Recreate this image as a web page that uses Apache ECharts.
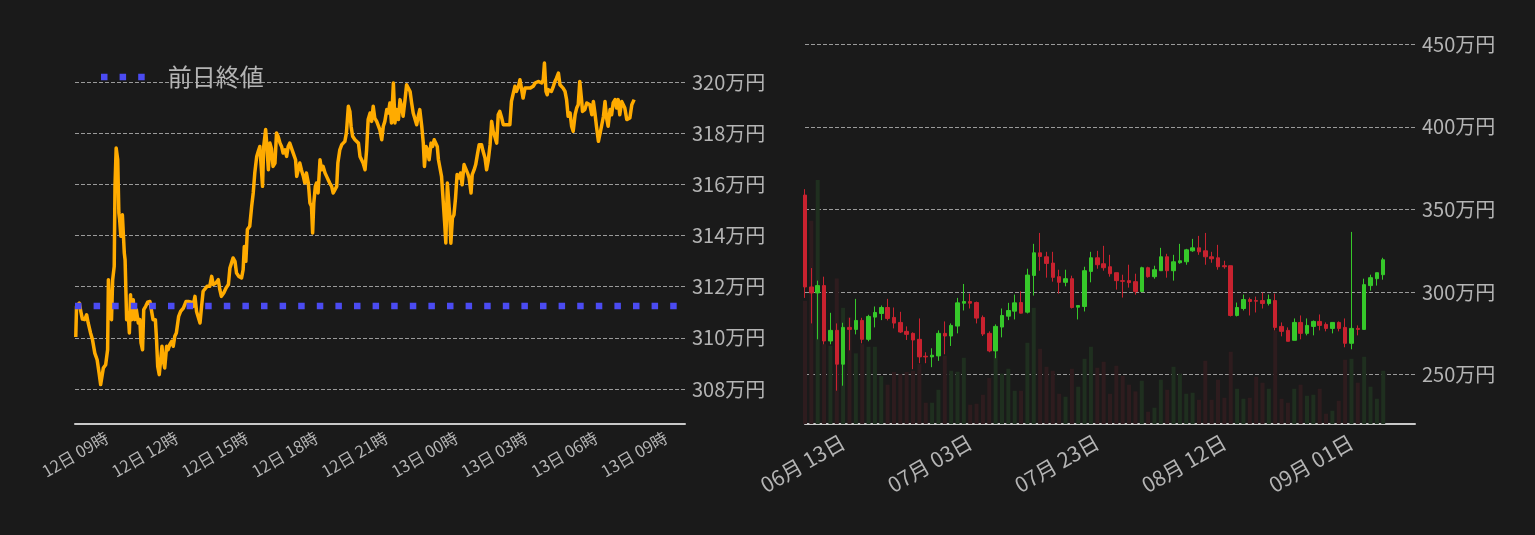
<!DOCTYPE html>
<html lang="ja">
<head>
<meta charset="utf-8">
<title>価格チャート</title>
<script src="https://cdn.jsdelivr.net/npm/echarts@6.0.0/dist/echarts.min.js"></script>
<style>
  html, body { margin: 0; padding: 0; background: #1a1a1a; }
  #chart { width: 1535px; height: 535px; }
</style>
</head>
<body>
<div id="chart"></div>
<script>
// ---------------------------------------------------------------------------
// Data — intraday (left) : [minutes since 12日 00:00, price in 万円]
// ---------------------------------------------------------------------------
const intraday = [
  [460,310.03],[462,311.23],[469,311.36],[473,311.03],[477,310.73],[483,310.71],[488,310.90],[492,310.58],[498,310.19],[503,309.93],
  [509,309.40],[515,309.14],[520,308.62],[524,308.17],[528,308.23],[531,308.82],[537,308.95],[542,309.53],[544,312.27],[548,310.84],
  [552,310.71],[555,312.27],[559,312.79],[561,315.92],[564,317.42],[568,316.96],[571,314.88],[573,314.62],[576,313.97],[580,314.81],
  [582,314.75],[585,313.31],[587,313.05],[591,310.71],[595,310.97],[598,310.19],[601,311.68],[604,310.71],[608,311.49],[612,310.71],
  [616,311.10],[621,310.58],[625,310.71],[628,309.80],[632,309.53],[635,311.10],[640,311.23],[645,311.39],[651,311.42],[655,311.36],
  [659,310.71],[665,310.71],[668,309.93],[671,308.88],[675,308.56],[678,308.62],[682,309.67],[685,309.14],[689,308.82],[694,309.67],
  [698,309.54],[702,309.73],[707,309.86],[711,309.67],[715,310.06],[719,310.19],[725,310.84],[730,311.03],[737,311.16],[744,311.42],
  [750,311.42],[754,311.36],[758,311.39],[762,311.23],[767,311.62],[771,311.03],[776,310.97],[780,310.58],[784,311.23],[788,311.82],
  [792,311.88],[798,312.01],[805,312.01],[810,312.40],[814,312.08],[821,312.14],[827,312.27],[831,311.88],[835,311.62],[841,311.75],
  [847,311.95],[853,312.08],[857,312.73],[861,312.92],[865,313.12],[870,312.99],[874,312.53],[880,312.40],[887,312.34],[891,312.66],
  [894,313.57],[898,312.99],[902,314.23],
  [908,314.36],[913,315.14],[917,315.66],[921,316.44],[926,317.09],[930,317.29],[934,317.48],[938,317.42],[941,315.92],[944,317.48],
  [949,318.14],[951,317.75],[956,316.57],[960,317.61],[964,317.39],[968,316.70],[973,316.83],[977,318.01],[981,317.88],[986,317.61],
  [990,317.48],[994,317.22],[999,317.35],[1003,317.09],[1007,317.48],[1011,317.61],[1016,317.61],[1020,317.22],[1026,316.96],[1029,316.31],
  [1033,316.57],[1037,316.83],[1041,316.57],[1046,316.31],[1050,316.05],[1054,316.44],[1059,316.05],[1063,315.27],[1067,315.14],[1070,314.10],
  [1073,315.27],[1077,315.92],[1080,316.05],[1084,315.66],[1089,316.96],[1093,316.57],[1097,316.70],[1102,316.44],[1106,316.31],[1110,316.18],
  [1114,316.05],[1119,315.92],[1123,315.66],[1127,315.66],[1132,315.92],[1135,316.83],[1140,317.35],[1145,317.55],[1149,317.61],[1153,317.68],
  [1157,318.01],[1162,319.05],[1166,318.85],[1169,318.27],[1173,317.88],[1179,317.74],[1183,317.74],[1188,317.61],[1192,317.09],[1196,316.96],
  [1200,316.83],[1205,316.57],[1209,317.35],[1213,318.53],[1218,318.79],[1222,318.46],[1226,319.05],[1230,318.59],[1235,318.46],[1239,318.40],
  [1243,318.14],[1248,317.74],[1252,318.27],[1256,318.46],[1261,318.92],[1265,318.79],[1269,319.18],[1273,318.40],[1278,319.96],[1282,318.40],
  [1286,318.92],[1291,318.53],[1295,319.31],[1299,319.05],[1303,318.66],[1308,319.31],[1312,319.89],[1316,319.96],[1321,319.63],[1325,319.18],
  [1329,318.79],[1334,318.72],[1338,318.33],[1342,318.66],[1346,318.92],[1351,318.27],[1355,317.61],[1358,316.70],[1362,317.48],[1366,317.35],
  [1370,316.96],[1375,317.61],[1379,317.48],[1383,317.74],[1388,317.81],[1391,317.48],[1394,316.96],[1398,316.96],[1402,316.31],[1406,315.40],
  [1410,314.49],[1413,313.71],[1417,316.05],
  [1419,315.98],[1423,314.81],[1426,313.70],[1430,314.68],[1434,314.81],[1438,315.46],[1442,316.38],[1448,316.25],[1451,316.44],[1455,315.98],
  [1460,316.77],[1465,316.83],[1469,316.44],[1473,316.25],[1478,315.66],[1481,316.38],[1486,316.57],[1490,316.77],[1495,317.22],[1499,317.55],
  [1505,317.55],[1509,317.29],[1514,317.03],[1518,316.57],[1522,316.90],[1527,317.55],[1531,318.46],[1535,318.07],[1539,317.88],[1544,317.61],
  [1548,318.72],[1552,318.85],[1557,318.59],[1561,318.33],[1570,318.33],[1578,318.33],[1582,319.24],[1587,319.57],[1591,319.83],[1595,319.63],
  [1600,319.83],[1604,320.09],[1608,320.02],[1612,319.37],[1617,319.76],[1621,319.76],[1630,319.76],[1638,319.83],[1643,319.96],[1647,319.89],
  [1651,320.02],[1655,320.09],[1660,319.96],[1664,320.09],[1667,320.74],[1671,319.63],[1674,319.50],[1677,319.70],[1681,319.76],[1685,319.63],
  [1690,319.83],[1694,320.02],[1698,320.15],[1703,320.35],[1707,319.89],[1711,319.83],[1715,319.76],[1720,319.63],[1724,319.31],[1728,318.66],
  [1733,318.79],[1737,318.27],[1741,318.07],[1746,318.72],[1750,318.98],[1754,319.11],[1758,320.02],[1763,319.24],[1765,318.85],[1771,318.92],
  [1776,319.18],[1780,319.11],[1784,319.11],[1789,318.72],[1793,319.24],[1797,318.79],[1801,318.27],[1806,317.68],[1810,317.61],[1814,318.27],
  [1819,318.66],[1823,319.24],[1827,318.59],[1831,318.27],[1836,318.92],[1840,318.72],[1844,319.18],[1849,319.31],[1853,318.98],[1857,319.31],
  [1861,318.72],[1866,319.24],[1870,319.11],[1874,318.98],[1879,318.53],[1883,318.53],[1887,318.59],[1892,319.11],[1898,319.31],
];
const prevClose = 311.24;               // 前日終値
const intradayAxis = [458, 2029];       // x range, minutes since 12日 00:00
const intradayPriceAxis = [306.63, 321.25];

// ---------------------------------------------------------------------------
// Data — daily candles (right). Calendar days, last few are empty.
// ---------------------------------------------------------------------------
const dayFirst = "06-07";
const dayLast = "09-11";
const dateTicks = ["06-13", "07-03", "07-23", "08-12", "09-01"];

const candleOpen = [
  358.64,303.01,299.40,303.82,270.29,276.72,256.24,278.52,277.31,282.73,
  271.29,284.74,286.95,290.56,284.54,281.53,276.11,274.90,271.29,261.05,
  260.65,261.25,274.90,273.30,279.32,293.17,294.18,293.57,284.54,274.90,
  264.26,278.72,285.34,288.36,293.57,287.75,310.00,323.70,321.29,317.47,
  309.24,305.82,308.03,290.76,291.16,312.45,320.68,317.07,315.26,311.65,
  306.83,306.83,306.22,300.19,314.66,309.24,312.85,321.29,312.85,317.67,
  318.27,324.90,326.71,324.90,321.29,320.68,315.87,315.87,285.74,289.96,
  295.38,294.78,294.78,292.97,294.78,279.12,276.71,270.69,281.53,274.90,
  279.12,282.13,280.32,277.91,281.53,278.52,268.88,277.91,277.31,303.82,
  308.03,310.44,
];
const candleClose = [
  303.01,299.40,303.82,270.29,276.72,256.24,278.52,277.31,282.73,271.29,
  285.15,287.56,290.56,283.94,281.13,275.71,274.30,270.89,260.65,260.65,
  261.65,274.90,273.30,279.72,293.38,294.18,293.17,284.14,274.50,264.26,
  279.12,285.74,288.76,293.38,287.15,310.20,323.70,321.49,317.27,308.83,
  305.82,308.03,290.56,291.77,312.85,320.68,316.47,314.66,311.04,306.83,
  306.43,305.62,300.19,314.66,309.24,313.45,321.29,312.85,318.27,318.88,
  325.50,326.71,324.30,321.29,320.08,315.26,315.26,285.74,290.56,295.38,
  294.18,294.38,292.97,295.38,278.52,276.11,270.09,281.53,274.90,279.72,
  282.13,279.72,277.91,281.53,277.91,268.88,277.91,277.31,304.42,308.63,
  311.65,319.48,
];
const candleLow = [
  296.39,280.93,271.29,268.28,268.28,240.17,243.18,264.66,274.30,268.88,
  270.09,278.52,282.93,282.73,277.91,275.10,270.89,253.22,256.83,256.83,
  254.42,258.24,262.25,267.27,274.90,288.76,289.96,280.93,273.30,263.46,
  259.84,272.49,282.93,283.33,286.95,286.95,297.79,312.85,308.63,306.22,
  299.00,303.41,289.96,283.33,288.16,305.82,314.06,312.85,309.24,301.41,
  296.59,302.61,298.40,300.19,308.63,308.03,312.85,308.63,306.83,317.07,
  316.47,324.30,322.49,316.47,317.67,313.45,314.06,285.14,285.14,288.76,
  285.74,287.55,289.96,291.77,276.71,273.09,270.09,270.69,271.29,273.70,
  273.70,276.71,276.11,274.90,276.11,266.47,265.26,273.70,277.31,300.80,
  303.82,307.43,
];
const candleHigh = [
  362.25,314.46,306.83,309.24,287.36,280.93,281.33,284.34,295.79,284.34,
  286.15,291.17,291.77,295.79,290.56,287.96,279.12,275.50,283.94,263.46,
  265.86,276.71,282.13,280.93,296.39,304.82,298.99,294.18,285.74,276.11,
  280.32,289.96,293.38,298.40,300.40,314.06,329.12,335.74,324.30,324.30,
  313.45,313.45,309.84,291.77,315.26,324.30,324.90,327.91,322.49,311.65,
  310.44,316.47,311.04,315.26,315.26,315.87,326.71,323.09,322.49,329.12,
  326.10,332.13,333.94,335.74,324.30,328.52,318.88,315.87,293.57,298.40,
  296.59,297.19,299.60,298.40,299.00,281.53,278.52,283.94,285.74,283.94,
  282.73,286.35,281.53,281.53,282.13,283.94,336.35,279.72,308.03,310.44,
  311.65,320.68,
];
const volume = [
  1233,2033,2443,800,783,1457,1163,1067,707,800,
  773,773,480,393,520,500,520,533,600,213,
  213,343,683,533,523,663,193,203,293,460,
  717,503,553,333,333,813,1163,753,573,533,
  303,273,553,373,653,773,563,623,303,583,
  483,393,327,433,123,163,443,343,573,503,
  303,313,243,633,243,443,263,723,353,253,
  263,473,413,353,933,253,213,353,393,283,
  293,353,103,133,233,643,653,413,673,373,
  253,533,
];
const volumeAxisMax = 3800;
const dailyPriceAxis = [220, 450];

// ---------------------------------------------------------------------------
// Style tokens
// ---------------------------------------------------------------------------
const BG = "#1a1a1a";
const TEXT = "#b4b4b4";
const GRID = "#9a9a9a";
const AXIS = "#c8c8c8";
const ORANGE = "#ffab00";
const BLUE = "#4b4bf2";
const UP = "#36c82a";
const DOWN = "#c8222f";
const UP_VOL = "#1f2f1f";
const DOWN_VOL = "#2e1c1e";
const FONT = "'Noto Sans CJK JP', 'Noto Sans', sans-serif";

// ---------------------------------------------------------------------------
// Helpers
// ---------------------------------------------------------------------------
const pad2 = (n) => String(n).padStart(2, "0");

// "06-07".."09-11" -> every calendar day in between.
function dayRange(fromMD, toMD) {
  const [fm, fd] = fromMD.split("-").map(Number);
  const [tm, td] = toMD.split("-").map(Number);
  const out = [];
  for (let t = Date.UTC(2001, fm - 1, fd); t <= Date.UTC(2001, tm - 1, td); t += 864e5) {
    const d = new Date(t);
    out.push(`${pad2(d.getUTCMonth() + 1)}-${pad2(d.getUTCDate())}`);
  }
  return out;
}

// hours since 12日 00:00 -> "12日 09時"
function fmtHour(h) {
  const hr = Math.round(h);
  return `${12 + Math.floor(hr / 24)}日 ${pad2(hr % 24)}時`;
}

const fmtMan = (v) => `${v}万円`;
const fmtDay = (md) => md.replace(/^(\d\d)-(\d\d)$/, "$1月 $2日");

const splitLine = (showMax) => ({
  show: true,
  showMinLine: false,
  showMaxLine: showMax,
  lineStyle: { color: GRID, width: 1, type: [4, 2] },
});

// ---------------------------------------------------------------------------
// Build
// ---------------------------------------------------------------------------
const days = dayRange(dayFirst, dayLast);
const lineData = intraday.map(([m, p]) => [m / 60, p]);
const xMin = intradayAxis[0] / 60;
const xMax = intradayAxis[1] / 60;

const candles = candleOpen.map((o, i) => [o, candleClose[i], candleLow[i], candleHigh[i]]);
const volumeBars = volume.map((v, i) => ({
  value: v,
  itemStyle: { color: candleClose[i] >= candleOpen[i] ? UP_VOL : DOWN_VOL },
}));

const chart = echarts.init(document.getElementById("chart"), null, { renderer: "canvas" });

chart.setOption({
  backgroundColor: BG,
  animation: false,
  textStyle: { fontFamily: FONT },
  legend: {
    data: ["前日終値"],
    left: 96,
    top: 60,
    itemWidth: 44,
    itemHeight: 6.5,
    icon: "path://M0 0h6.5v6.5H0z M18.6 0h6.5v6.5h-6.5z M37.2 0h6.5v6.5h-6.5z",
    itemStyle: { color: BLUE, borderWidth: 0 },
    textStyle: { color: TEXT, fontSize: 24, fontFamily: FONT, padding: [0, 0, 0, 18] },
  },
  grid: [
    { left: 75, width: 610, top: 50, bottom: 111 },
    { left: 805, width: 610, top: 44.3, bottom: 111 },
  ],
  xAxis: [
    {
      type: "value",
      gridIndex: 0,
      min: xMin,
      max: xMax,
      splitNumber: 9,
      axisLine: { lineStyle: { color: AXIS, width: 2 } },
      axisTick: { show: false },
      splitLine: { show: false },
      axisLabel: {
        rotate: 30, fontSize: 16.5, color: TEXT, margin: 12,
        showMinLabel: false, showMaxLabel: false, formatter: fmtHour,
      },
    },
    {
      type: "category",
      gridIndex: 1,
      data: days,
      boundaryGap: false,
      axisLine: { lineStyle: { color: AXIS, width: 2 } },
      axisTick: { show: false },
      splitLine: { show: false },
      axisLabel: {
        rotate: 30, fontSize: 21, color: TEXT, margin: 16,
        interval: (idx, val) => dateTicks.includes(val),
        formatter: fmtDay,
      },
    },
  ],
  yAxis: [
    {
      type: "value",
      gridIndex: 0,
      position: "right",
      min: intradayPriceAxis[0],
      max: intradayPriceAxis[1],
      splitNumber: 7,
      axisLine: { show: false },
      axisTick: { show: false },
      axisLabel: { color: TEXT, fontSize: 20, margin: 7, showMinLabel: false, showMaxLabel: false, formatter: fmtMan },
      splitLine: splitLine(false),
    },
    {
      type: "value",
      gridIndex: 1,
      position: "right",
      min: dailyPriceAxis[0],
      max: dailyPriceAxis[1],
      axisLine: { show: false },
      axisTick: { show: false },
      axisLabel: { color: TEXT, fontSize: 20, margin: 7, showMinLabel: false, formatter: fmtMan },
      splitLine: splitLine(true),
    },
    {
      type: "value",
      gridIndex: 1,
      min: 0,
      max: volumeAxisMax,
      show: false,
      splitLine: { show: false },
    },
  ],
  series: [
    {
      name: "価格",
      type: "line",
      xAxisIndex: 0,
      yAxisIndex: 0,
      data: lineData,
      symbol: "none",
      z: 2,
      lineStyle: { color: ORANGE, width: 3.5, join: "round" },
    },
    {
      name: "前日終値",
      type: "line",
      xAxisIndex: 0,
      yAxisIndex: 0,
      data: [[xMin, prevClose], [xMax, prevClose]],
      symbol: "none",
      color: BLUE,
      z: 3,
      lineStyle: { color: BLUE, width: 6.5, type: [6.5, 12.1], cap: "butt" },
    },
    {
      name: "出来高",
      type: "bar",
      xAxisIndex: 1,
      yAxisIndex: 2,
      data: volumeBars,
      barWidth: 4,
      z: 1,
      silent: true,
    },
    {
      name: "日足",
      type: "candlestick",
      xAxisIndex: 1,
      yAxisIndex: 1,
      data: candles,
      barWidth: 4,
      z: 2,
      itemStyle: {
        color: UP, color0: DOWN,
        borderColor: UP, borderColor0: DOWN, borderWidth: 1,
      },
    },
  ],
});

window.addEventListener("resize", () => chart.resize());
</script>
</body>
</html>
